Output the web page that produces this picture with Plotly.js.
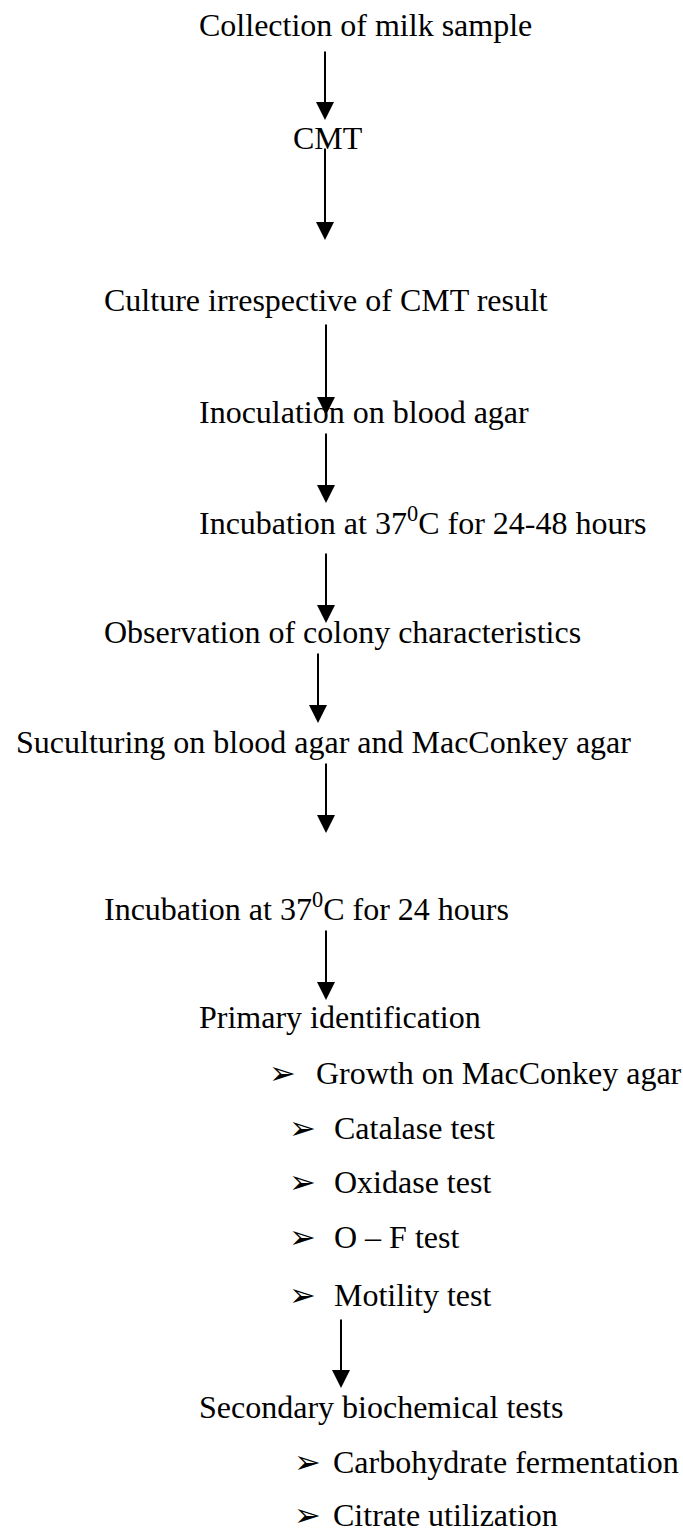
<!DOCTYPE html>
<html>
<head>
<meta charset="utf-8">
<script src="https://cdn.plot.ly/plotly-3.0.1.min.js"></script>
<style>
html, body { margin: 0; padding: 0; background: #fff; }
#chart { width: 683px; height: 1528px; }
</style>
</head>
<body>
<div id="chart"></div>
<script>
// Flowchart steps
const stepLabels = [
  "Collection of milk sample",
  "CMT",
  "Culture irrespective of CMT result",
  "Inoculation on blood agar",
  "Incubation at 37<sup>0</sup>C for 24-48 hours",
  "Observation of colony characteristics",
  "Suculturing on blood agar and MacConkey agar",
  "Incubation at 37<sup>0</sup>C for 24 hours",
  "Primary identification",
  "Secondary biochemical tests"
];
const stepX = [198, 292, 103, 198, 198, 103, 15, 103, 198, 198];
const stepY = [25, 138, 300, 412, 521, 632, 742, 907, 1017, 1407];

// Bulleted tests
const bulletLabels = [
  "Growth on MacConkey agar",
  "Catalase test",
  "Oxidase test",
  "O \u2013 F test",
  "Motility test",
  "Carbohydrate fermentation",
  "Citrate utilization"
];
const bulletMarkX = [268, 288, 288, 288, 288, 293, 293];
const bulletTextX = [315, 333, 333, 333, 333, 332, 332];
const bulletY = [1073, 1128, 1182, 1237, 1295, 1462, 1515];

// Connector arrows
const arrowX    = [325, 325, 326, 326, 326, 318, 326, 326, 341];
const arrowFrom = [50, 147, 323, 432, 552, 652, 762, 929, 1318];
const arrowTo   = [120, 240, 415, 503, 623, 723, 833, 1000, 1388];

const serif = { family: "'Liberation Serif', 'Times New Roman', Times, 'DejaVu Serif', serif", size: 32, color: "#000" };
const annotations = [];

stepLabels.forEach((t, i) => {
  annotations.push({
    x: stepX[i], y: stepY[i], xref: "x", yref: "y",
    text: t, showarrow: false, xanchor: "left", yanchor: "middle",
    font: serif, borderpad: 0
  });
});

bulletLabels.forEach((t, i) => {
  annotations.push({
    x: bulletMarkX[i], y: bulletY[i], xref: "x", yref: "y",
    text: "\u27A2", showarrow: false, xanchor: "left", yanchor: "middle",
    font: { family: "DejaVu Sans", size: 32, color: "#000" }, borderpad: 0
  });
  annotations.push({
    x: bulletTextX[i], y: bulletY[i], xref: "x", yref: "y",
    text: t, showarrow: false, xanchor: "left", yanchor: "middle",
    font: serif, borderpad: 0
  });
});

arrowX.forEach((x, i) => {
  annotations.push({
    x: x, y: arrowTo[i], xref: "x", yref: "y",
    ax: x, ay: arrowFrom[i], axref: "x", ayref: "y",
    text: "", showarrow: true, arrowhead: 2, arrowsize: 1.8, arrowwidth: 2,
    arrowcolor: "#000", standoff: 0, startstandoff: 0
  });
});

const data = [{
  x: [0], y: [0], type: "scatter", mode: "markers",
  marker: { opacity: 0 }, hoverinfo: "skip", showlegend: false
}];

const layout = {
  width: 683, height: 1528,
  margin: { l: 0, r: 0, t: 0, b: 0, pad: 0 },
  paper_bgcolor: "#fff", plot_bgcolor: "#fff",
  showlegend: false,
  font: { family: "'Liberation Serif', serif" },
  xaxis: { range: [0, 683], visible: false, fixedrange: true },
  yaxis: { range: [1528, 0], visible: false, fixedrange: true },
  annotations: annotations
};

Plotly.newPlot("chart", data, layout, { staticPlot: true, displayModeBar: false });
</script>
</body>
</html>
